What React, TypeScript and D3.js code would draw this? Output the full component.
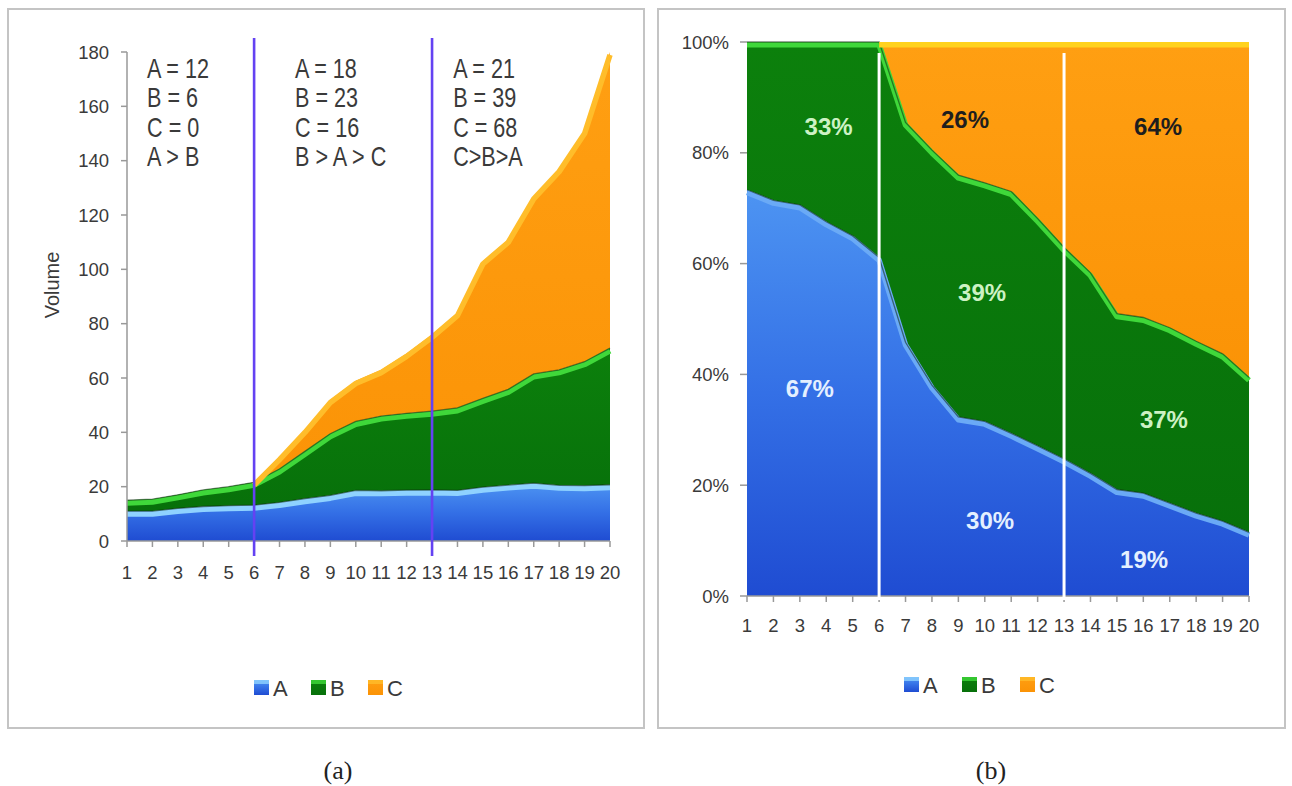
import React from "react";
import * as d3 from "d3";

const categories = d3.range(1, 21);
const seriesA = [11, 11, 12, 12.7, 13, 13.2, 14.2, 15.6, 16.8, 18.6, 18.5, 18.7, 18.8, 18.6, 19.8, 20.6, 21.3, 20.5, 20.4, 20.7];
const seriesB = [4, 4.4, 5, 6.1, 7, 8.4, 12.3, 17.4, 22.7, 25.4, 27.5, 28.3, 29, 30.4, 32.7, 35.2, 40.2, 42.5, 45.6, 50.3];
const seriesC = [0, 0, 0, 0, 0, 0, 4.5, 8, 12.5, 15, 17, 22, 28.2, 35, 50.5, 55.2, 65.5, 74, 85, 109];
const keys = ["A", "B", "C"];
const volumeTicks = [0, 20, 40, 60, 80, 100, 120, 140, 160, 180];
const percentTicks = [0, 0.2, 0.4, 0.6, 0.8, 1];
const dividers = [6, 13];
const annotations = [
  ["A = 12", "B = 6", "C = 0", "A > B"],
  ["A = 18", "B = 23", "C = 16", "B > A > C"],
  ["A = 21", "B = 39", "C = 68", "C>B>A"],
];
const shareLabels = ["33%", "26%", "64%", "39%", "67%", "37%", "30%", "19%"];

const rows = categories.map((x, i) => ({ x, A: seriesA[i], B: seriesB[i], C: seriesC[i] }));

const FONT = "'Liberation Sans', Arial, sans-serif";
const TXT = "#3a3a3a";

const fills: Record<string, string> = { A: "url(#gA)", B: "url(#gB)", C: "url(#gC)" };
const bands: Record<string, string> = { A: "#8fd2ff", B: "#3fd83a", C: "#ffbd2a" };

function Chart({ stacked, x, y, band }: any) {
  const area = d3
    .area<any>()
    .x((d: any) => x(d.data.x))
    .y0((d: any) => y(d[0]))
    .y1((d: any) => y(d[1]));
  return (
    <g>
      {stacked.map((s: any) => (
        <path key={s.key} d={area(s) || ""} fill={fills[s.key]} />
      ))}
      {stacked.map((s: any) => {
        const defined = (d: any, i: number) =>
          s.key !== "C" || rows[i].C > 0 || (i + 1 < rows.length && rows[i + 1].C > 0);
        const line = d3
          .line<any>()
          .defined(defined)
          .x((d: any) => x(d.data.x))
          .y((d: any) => y(d[1]));
        const col = band && band[s.key] ? band[s.key] : bands[s.key];
        return (
          <g key={"l" + s.key}>
            <path d={line(s) || ""} transform="translate(0,2.8)" fill="none" stroke={col} strokeWidth={5.5} strokeLinejoin="round" />
            {s.key !== "C" && (
              <path d={line(s) || ""} fill="none" stroke="#0c2a0c" strokeOpacity={0.55} strokeWidth={1.3} />
            )}
          </g>
        );
      })}
    </g>
  );
}

export default function App() {
  const xL = d3.scaleLinear().domain([1, 20]).range([127, 610]);
  const yL = d3.scaleLinear().domain([0, 180]).range([541, 52]);
  const xR = d3.scaleLinear().domain([1, 20]).range([747, 1249]);
  const yR = d3.scaleLinear().domain([0, 1]).range([596, 42]);

  const stacked = d3.stack<any>().keys(keys)(rows);
  const expanded = d3.stack<any>().keys(keys).offset(d3.stackOffsetExpand)(rows);

  const annoX = [1.79, 7.61, 13.83];
  const annoY = [78, 107, 137, 166];
  const labelPos = [
    [4.09, 0.847, "#cdf2c4"],
    [9.25, 0.861, "#1e1e1e"],
    [16.56, 0.848, "#1e1e1e"],
    [9.9, 0.547, "#cdf2c4"],
    [3.38, 0.374, "#e4f0ff"],
    [16.78, 0.318, "#cdf2c4"],
    [10.2, 0.137, "#e4f0ff"],
    [16.03, 0.065, "#e4f0ff"],
  ];

  const legend = (x0: number, yc: number, step: number, fs: number) =>
    keys.map((k, i) => (
      <g key={k} transform={`translate(${x0 + i * step},${yc})`}>
        <rect x={0} y={-8} width={15} height={15} fill={fills[k]} />
        <rect x={0} y={-8} width={15} height={4} fill={bands[k]} opacity={0.8} />
        <text x={19} y={0} dominantBaseline="central" fontSize={fs} fill={TXT} fontFamily={FONT}>
          {k}
        </text>
      </g>
    ));

  return (
    <div style={{ position: "absolute", left: 0, top: 0 }}>
      <svg width={1292} height={786} style={{ display: "block", background: "#fff" }}>
        <defs>
          <linearGradient id="gA" x1="0" y1="0" x2="0" y2="1">
            <stop offset="0" stopColor="#4d94f2" />
            <stop offset="0.5" stopColor="#3470e6" />
            <stop offset="1" stopColor="#1f4cd2" />
          </linearGradient>
          <linearGradient id="gB" x1="0" y1="0" x2="0" y2="1">
            <stop offset="0" stopColor="#0c800c" />
            <stop offset="1" stopColor="#07700a" />
          </linearGradient>
          <linearGradient id="gC" x1="0" y1="0" x2="0" y2="1">
            <stop offset="0" stopColor="#ff9f12" />
            <stop offset="1" stopColor="#fb9306" />
          </linearGradient>
        </defs>

        {/* panel frames */}
        <rect x={8} y={9} width={636} height={719} fill="none" stroke="#c4c4c4" strokeWidth={2} />
        <rect x={658} y={9} width={627} height={719} fill="none" stroke="#c4c4c4" strokeWidth={2} />

        {/* ---------- left chart ---------- */}
        <Chart stacked={stacked} x={xL} y={yL} />
        <line x1={xL(1)} x2={xL(1)} y1={yL(180)} y2={yL(0)} stroke="#999" strokeWidth={1.5} />
        <line x1={xL(1)} x2={xL(20)} y1={yL(0)} y2={yL(0)} stroke="#999" strokeWidth={1.5} />
        {volumeTicks.map((t) => (
          <g key={t}>
            <line x1={xL(1) - 6} x2={xL(1)} y1={yL(t)} y2={yL(t)} stroke="#999" strokeWidth={1.5} />
            <text x={109} y={yL(t)} textAnchor="end" dominantBaseline="central" fontSize={18.5} fill={TXT} fontFamily={FONT}>
              {t}
            </text>
          </g>
        ))}
        {categories.map((c) => (
          <g key={c}>
            <line x1={xL(c)} x2={xL(c)} y1={yL(0)} y2={yL(0) + 6} stroke="#999" strokeWidth={1.5} />
            <text x={xL(c)} y={572} textAnchor="middle" dominantBaseline="central" fontSize={18.5} fill={TXT} fontFamily={FONT}>
              {c}
            </text>
          </g>
        ))}
        <text transform="translate(52,285) rotate(-90)" textAnchor="middle" dominantBaseline="central" fontSize={20} fill={TXT} fontFamily={FONT}>
          Volume
        </text>
        {dividers.map((d) => (
          <line key={d} x1={xL(d)} x2={xL(d)} y1={38} y2={556} stroke="#6442f2" strokeWidth={2.6} />
        ))}
        {annotations.map((col, ci) =>
          col.map((t, li) => (
            <text key={ci + "-" + li} transform={`translate(${xL(annoX[ci])},${annoY[li]}) scale(0.8,1)`} fontSize={27} fill={TXT} fontFamily={FONT}>
              {t}
            </text>
          ))
        )}
        {legend(254, 688, 57, 22)}
        <text x={338} y={770} textAnchor="middle" dominantBaseline="central" fontSize={26} fill="#222" fontFamily="'Liberation Serif', 'Times New Roman', serif">
          (a)
        </text>

        {/* ---------- right chart ---------- */}
        <Chart stacked={expanded} x={xR} y={yR} band={{ A: "#6aaaf6", C: "#ffd21e" }} />
        {percentTicks.map((t) => (
          <g key={t}>
            <line x1={xR(1) - 7} x2={xR(1)} y1={yR(t)} y2={yR(t)} stroke="#999" strokeWidth={1.5} />
            <text x={729} y={yR(t)} textAnchor="end" dominantBaseline="central" fontSize={18.5} fill={TXT} fontFamily={FONT}>
              {d3.format(".0%")(t)}
            </text>
          </g>
        ))}
        <line x1={xR(1)} x2={xR(20)} y1={yR(0)} y2={yR(0)} stroke="#999" strokeWidth={1.5} />
        {categories.map((c) => (
          <g key={c}>
            <line x1={xR(c)} x2={xR(c)} y1={yR(0)} y2={yR(0) + 6} stroke="#999" strokeWidth={1.5} />
            <text x={xR(c)} y={625} textAnchor="middle" dominantBaseline="central" fontSize={18.5} fill={TXT} fontFamily={FONT}>
              {c}
            </text>
          </g>
        ))}
        {dividers.map((d) => (
          <line key={d} x1={xR(d)} x2={xR(d)} y1={53} y2={600} stroke="#ffffff" strokeWidth={3} />
        ))}
        {shareLabels.map((t, i) => (
          <text
            key={t}
            x={xR(labelPos[i][0] as number)}
            y={yR(labelPos[i][1] as number)}
            textAnchor="middle"
            dominantBaseline="central"
            fontSize={24}
            fontWeight="bold"
            fill={labelPos[i][2] as string}
            fontFamily={FONT}
          >
            {t}
          </text>
        ))}
        {legend(904, 685, 58, 22)}
        <text x={991} y={770} textAnchor="middle" dominantBaseline="central" fontSize={26} fill="#222" fontFamily="'Liberation Serif', 'Times New Roman', serif">
          (b)
        </text>
      </svg>
    </div>
  );
}
